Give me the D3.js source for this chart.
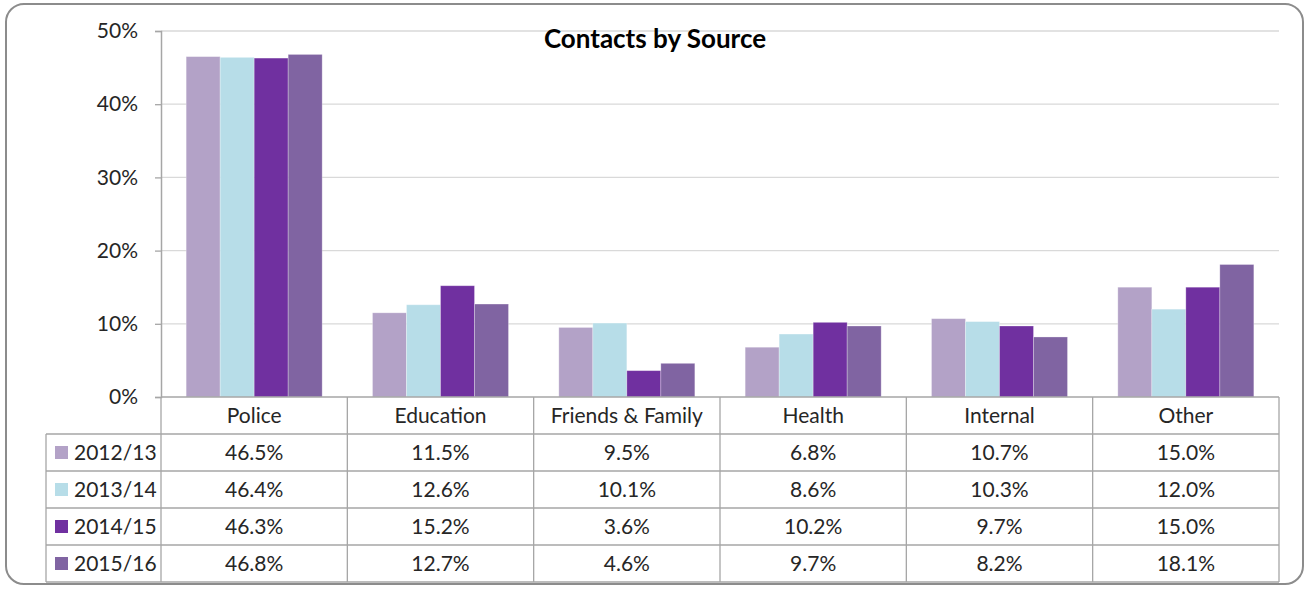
<!DOCTYPE html>
<html>
<head>
<meta charset="utf-8">
<script src="https://cdn.jsdelivr.net/npm/d3@7/dist/d3.min.js"></script>
<style>
  html, body { margin: 0; padding: 0; background: #fff; }
  svg { display: block; font-family: Lato, "Open Sans", sans-serif; }
</style>
</head>
<body>
<svg id="chart" width="1309" height="589"></svg>
<script>
const categories = ["Police", "Education", "Friends & Family", "Health", "Internal", "Other"];
const seriesNames = ["2012/13", "2013/14", "2014/15", "2015/16"];
const values2012 = [46.5, 11.5, 9.5, 6.8, 10.7, 15.0];
const values2013 = [46.4, 12.6, 10.1, 8.6, 10.3, 12.0];
const values2014 = [46.3, 15.2, 3.6, 10.2, 9.7, 15.0];
const values2015 = [46.8, 12.7, 4.6, 9.7, 8.2, 18.1];
const yTicks = [0, 10, 20, 30, 40, 50];
const chartTitle = "Contacts by Source";
const colors = ["#b3a2c7", "#b7dde8", "#7030a0", "#8064a2"];

const seriesValues = [values2012, values2013, values2014, values2015];

const svg = d3.select("#chart");
const plotLeft = 161, plotRight = 1279, plotTop = 31, plotBase = 397;
const rowH = 37, legendLeft = 46;
const textColor = "#262626";
const fontSize = 21;

// outer rounded border
svg.append("rect")
  .attr("x", 6).attr("y", 4).attr("width", 1297).attr("height", 580)
  .attr("rx", 18).attr("ry", 18)
  .attr("fill", "#fff").attr("stroke", "#8c8c8c").attr("stroke-width", 2);

const x0 = d3.scaleBand().domain(categories).range([plotLeft, plotRight]).paddingInner(0).paddingOuter(0);
const x1 = d3.scaleBand().domain(seriesNames).range([0, x0.bandwidth()]).paddingInner(0).paddingOuter(0.74);
const y = d3.scaleLinear().domain([0, 50]).range([plotBase, plotTop]);

// gridlines
svg.append("g").selectAll("line").data(yTicks.filter(d => d > 0)).join("line")
  .attr("x1", plotLeft).attr("x2", plotRight)
  .attr("y1", d => y(d)).attr("y2", d => y(d))
  .attr("stroke", "#d9d9d9").attr("stroke-width", 1.3);

// y axis
const yAxis = d3.axisLeft(y).tickValues(yTicks).tickFormat(d => d + "%").tickSize(6).tickPadding(17);
const ga = svg.append("g").attr("transform", `translate(${plotLeft},0)`).call(yAxis);
ga.select(".domain").attr("stroke", "#a6a6a6").attr("stroke-width", 1.5);
ga.selectAll(".tick line").attr("stroke", "#a6a6a6").attr("stroke-width", 1.3);
ga.selectAll(".tick text").attr("fill", textColor).style("font-size", fontSize + "px").style("font-family", "Lato, sans-serif");

// bars
const groups = svg.append("g").selectAll("g").data(categories).join("g")
  .attr("transform", d => `translate(${x0(d)},0)`);
groups.selectAll("rect")
  .data((c, ci) => seriesNames.map((s, si) => ({ s, si, v: seriesValues[si][ci] })))
  .join("rect")
  .attr("x", d => x1(d.s))
  .attr("width", x1.bandwidth())
  .attr("y", d => y(d.v))
  .attr("height", d => plotBase - y(d.v))
  .attr("fill", d => colors[d.si])
  .attr("stroke", "rgba(255,255,255,0.35)")
  .attr("stroke-width", 0.8);

// title
svg.append("text")
  .attr("x", 655).attr("y", 48)
  .attr("text-anchor", "middle")
  .attr("fill", "#000")
  .style("font-size", "26px").style("font-weight", "bold")
  .text(chartTitle);

// data table
const tableG = svg.append("g");
const lineColor = "#a6a6a6";
const tableBottom = plotBase + rowH * (seriesNames.length + 1);
tableG.append("line").attr("x1", plotLeft).attr("x2", plotRight).attr("y1", plotBase).attr("y2", plotBase)
  .attr("stroke", lineColor).attr("stroke-width", 1.5);
for (let r = 1; r <= seriesNames.length + 1; r++) {
  tableG.append("line").attr("x1", legendLeft).attr("x2", plotRight)
    .attr("y1", plotBase + r * rowH).attr("y2", plotBase + r * rowH)
    .attr("stroke", lineColor).attr("stroke-width", 1.3);
}
tableG.append("line").attr("x1", legendLeft).attr("x2", legendLeft)
  .attr("y1", plotBase + rowH).attr("y2", tableBottom).attr("stroke", lineColor).attr("stroke-width", 1.3);
categories.forEach((c) => {
  const xr = x0(c) + x0.bandwidth();
  tableG.append("line").attr("x1", xr).attr("x2", xr)
    .attr("y1", plotBase).attr("y2", tableBottom).attr("stroke", lineColor).attr("stroke-width", 1.3);
});
tableG.append("line").attr("x1", plotLeft).attr("x2", plotLeft)
  .attr("y1", plotBase).attr("y2", tableBottom).attr("stroke", lineColor).attr("stroke-width", 1.3);

tableG.selectAll("text.cat").data(categories).join("text")
  .attr("class", "cat")
  .attr("x", d => x0(d) + x0.bandwidth() / 2)
  .attr("y", plotBase + rowH / 2)
  .attr("dy", "0.35em")
  .attr("text-anchor", "middle")
  .attr("fill", textColor)
  .style("font-size", fontSize + "px")
  .text(d => d);

seriesNames.forEach((s, si) => {
  const cy = plotBase + rowH * (si + 1) + rowH / 2;
  tableG.append("rect").attr("x", 55).attr("y", cy - 6.5).attr("width", 13).attr("height", 13)
    .attr("fill", colors[si]);
  tableG.append("text").attr("x", 74).attr("y", cy).attr("dy", "0.35em")
    .attr("fill", textColor).style("font-size", fontSize + "px").text(s);
  categories.forEach((c, ci) => {
    tableG.append("text")
      .attr("x", x0(c) + x0.bandwidth() / 2)
      .attr("y", cy).attr("dy", "0.35em")
      .attr("text-anchor", "middle")
      .attr("fill", textColor)
      .style("font-size", fontSize + "px")
      .text(seriesValues[si][ci].toFixed(1) + "%");
  });
});
</script>
</body>
</html>
